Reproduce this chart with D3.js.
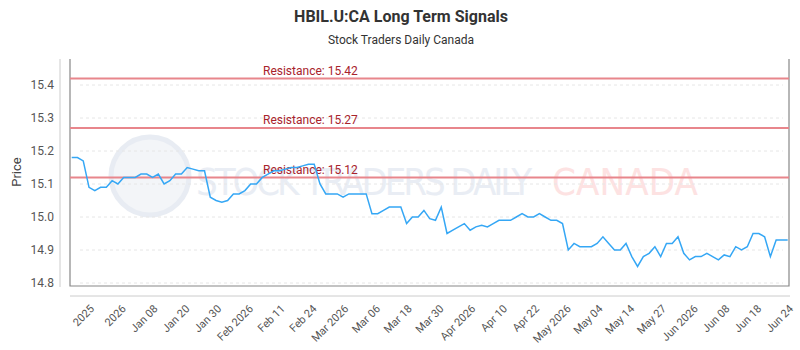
<!DOCTYPE html>
<html>
<head>
<meta charset="utf-8">
<script src="https://cdn.jsdelivr.net/npm/d3@7"></script>
<style>
  body { margin: 0; background: #fff; }
  text { font-family: Roboto, "Open Sans", sans-serif; }
</style>
</head>
<body>
<div id="chart"></div>
<script>
const WIDTH = 800;
const HEIGHT = 350;

// prix de cloture, un point par seance
const prices = [
  15.18, 15.18, 15.17, 15.09, 15.08, 15.09, 15.09, 15.11, 15.10, 15.12,
  15.12, 15.12, 15.13, 15.13, 15.12, 15.13, 15.10, 15.11, 15.13, 15.13,
  15.15, 15.145, 15.14, 15.14, 15.06, 15.05, 15.045, 15.05, 15.07, 15.07,
  15.08, 15.10, 15.10, 15.12, 15.13, 15.14, 15.14, 15.145, 15.15, 15.15,
  15.155, 15.16, 15.16, 15.10, 15.07, 15.07, 15.07, 15.06, 15.07, 15.07,
  15.07, 15.07, 15.01, 15.01, 15.02, 15.03, 15.03, 15.03, 14.98, 15.00,
  15.00, 15.02, 14.995, 14.99, 15.03, 14.95, 14.96, 14.97, 14.98, 14.96,
  14.97, 14.975, 14.97, 14.98, 14.99, 14.99, 14.99, 15.00, 15.01, 15.00,
  15.00, 15.01, 15.00, 14.99, 14.99, 14.98, 14.90, 14.92, 14.91, 14.91,
  14.91, 14.92, 14.94, 14.92, 14.90, 14.90, 14.92, 14.88, 14.85, 14.88,
  14.89, 14.91, 14.88, 14.92, 14.92, 14.94, 14.89, 14.87, 14.88, 14.88,
  14.89, 14.88, 14.87, 14.885, 14.88, 14.91, 14.90, 14.91, 14.95, 14.95,
  14.94, 14.88, 14.93, 14.93, 14.93
];

const resistances = [15.42, 15.27, 15.12];

const xLabels = [
  "2025", "2026", "Jan 08", "Jan 20", "Jan 30", "Feb 2026", "Feb 11", "Feb 24",
  "Mar 2026", "Mar 06", "Mar 18", "Mar 30", "Apr 2026", "Apr 10", "Apr 22",
  "May 2026", "May 04", "May 14", "May 27", "Jun 2026", "Jun 08", "Jun 18", "Jun 24"
];

const yTicks = [14.8, 14.9, 15.0, 15.1, 15.2, 15.3, 15.4];

// zone du graphique
const LEFT = 70, RIGHT = 789, TOP = 59, BOTTOM = 286;

const svg = d3.select("#chart")
  .append("svg")
  .attr("width", WIDTH)
  .attr("height", HEIGHT);

const x = d3.scaleLinear()
  .domain([0, prices.length - 1])
  .range([71.7, 787.7]);

const y = d3.scaleLinear()
  .domain([14.8, 15.4])
  .range([283, 85]);

const xTick = d3.scalePoint()
  .domain(xLabels)
  .range([91, 790]);

// titre
svg.append("text")
  .attr("x", 401).attr("y", 22)
  .attr("text-anchor", "middle")
  .style("font-size", "16px").style("font-weight", "bold")
  .style("fill", "#333")
  .text("HBIL.U:CA Long Term Signals");

svg.append("text")
  .attr("x", 401).attr("y", 44)
  .attr("text-anchor", "middle")
  .style("font-size", "12px")
  .style("fill", "#333")
  .text("Stock Traders Daily Canada");

// filigrane
const wm = svg.append("g");
wm.append("circle")
  .attr("cx", 150).attr("cy", 176).attr("r", 39)
  .style("fill", "#eef1f6").style("opacity", 0.7)
  .style("stroke", "#dfe5ee").style("stroke-width", 5);
wm.append("text")
  .attr("x", 196).attr("y", 195)
  .attr("textLength", 336)
  .style("font-family", "'DejaVu Sans Condensed', 'Liberation Sans Narrow', sans-serif")
  .style("font-size", "38px")
  .style("fill", "#e9edf4")
  .text("STOCK TRADERS DAILY");
wm.append("text")
  .attr("x", 552).attr("y", 195)
  .attr("textLength", 146)
  .style("font-family", "'DejaVu Sans Condensed', 'Liberation Sans Narrow', sans-serif")
  .style("font-size", "38px")
  .style("fill", "#fde2e2")
  .text("CANADA");

// grille
svg.append("g")
  .selectAll("line")
  .data(yTicks)
  .join("line")
  .attr("x1", 80).attr("x2", 783)
  .attr("y1", d => y(d)).attr("y2", d => y(d))
  .style("stroke", "#e6e6e6")
  .style("stroke-dasharray", "3,3");

// axe y
const yAxis = svg.append("g")
  .attr("transform", `translate(60,0)`)
  .call(d3.axisLeft(y).tickValues(yTicks).tickFormat(d3.format(".1f")).tickSize(0).tickPadding(6));
yAxis.select(".domain").remove();
yAxis.selectAll("text")
  .style("font-size", "12px")
  .style("fill", "#555")
  .style("font-family", "Roboto, sans-serif");

svg.append("text")
  .attr("transform", "translate(21,172) rotate(-90)")
  .attr("text-anchor", "middle")
  .style("font-size", "13px")
  .style("fill", "#444")
  .text("Price");

// axe x
const xAxis = svg.append("g")
  .attr("transform", `translate(0,300)`)
  .call(d3.axisBottom(xTick).tickSize(0).tickPadding(0));
xAxis.select(".domain").remove();
xAxis.selectAll("text")
  .attr("text-anchor", "end")
  .attr("dy", "0.7em")
  .attr("transform", "translate(-2,4) rotate(-45)")
  .style("font-size", "11px")
  .style("fill", "#555")
  .style("font-family", "Roboto, sans-serif");

// lignes de cadre
svg.append("line")
  .attr("x1", 60).attr("x2", 60).attr("y1", TOP).attr("y2", 287)
  .style("stroke", "#ccc");
svg.append("line")
  .attr("x1", LEFT).attr("x2", 790).attr("y1", 296).attr("y2", 296)
  .style("stroke", "#ccc");
svg.append("path")
  .attr("d", `M${LEFT},${TOP}V${BOTTOM}H${RIGHT}V${TOP}`)
  .style("fill", "none")
  .style("stroke", "#888")
  .style("stroke-width", 1.2);

// resistances
const res = svg.append("g")
  .selectAll("g")
  .data(resistances)
  .join("g");
res.append("line")
  .attr("x1", LEFT).attr("x2", RIGHT)
  .attr("y1", d => y(d)).attr("y2", d => y(d))
  .style("stroke", "#e8868c")
  .style("stroke-width", 2);
res.append("text")
  .attr("x", 263)
  .attr("y", d => y(d) - 3.5)
  .style("font-size", "12px")
  .style("fill", "#a8232c")
  .text(d => "Resistance: " + d.toFixed(2));

// courbe des prix
const line = d3.line()
  .x((d, i) => x(i))
  .y(d => y(d));

svg.append("path")
  .datum(prices)
  .attr("d", line)
  .style("fill", "none")
  .style("stroke", "#35a7f5")
  .style("stroke-width", 1.5);
</script>
</body>
</html>
